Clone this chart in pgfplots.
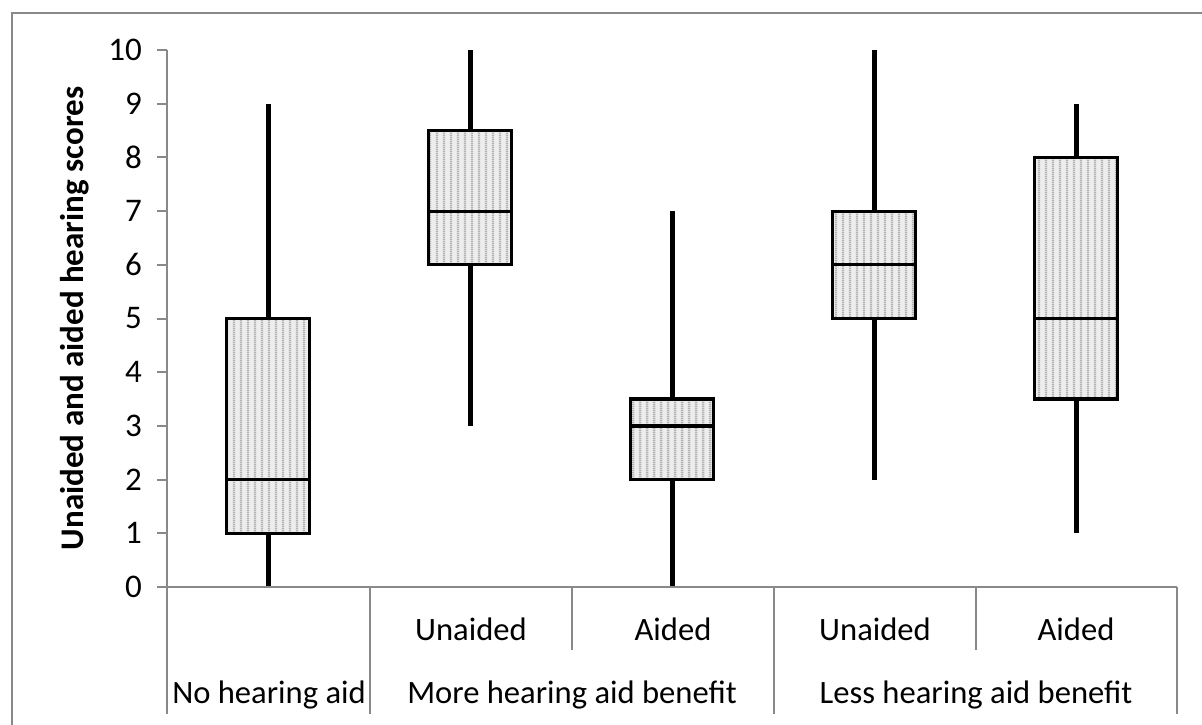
\documentclass[border=0pt]{standalone}
\usepackage{pgfplots}
\pgfplotsset{compat=1.18}
\usepgfplotslibrary{statistics}
\usetikzlibrary{patterns.meta}
\usepackage{fontspec}
\setmainfont{Carlito}

\definecolor{axgray}{RGB}{137,137,137}

% fine vertical stripes like the original box fill
\tikzdeclarepattern{
  name=vstripe,
  type=uncolored,
  bounding box={(0,0) and (3.5pt,1pt)},
  tile size={(3.5pt,1pt)},
  code={\draw[line width=1.3pt] (1.75pt,-0.1pt) -- (1.75pt,1.1pt);}
}

\begin{document}
\begin{tikzpicture}
\begin{axis}[
    at={(83.5pt,-293.5pt)}, anchor=south west,
    scale only axis,
    width=505pt, height=268.5pt,
    xmin=-0.5, xmax=4.5,
    ymin=0, ymax=10,
    axis x line=none,
    axis y line*=left,
    y axis line style={draw=axgray, line width=1pt},
    ytick={0,1,...,10},
    ytick style={draw=axgray, line width=1pt},
    tick align=outside,
    major tick length=5pt,
    xtick=\empty,
    /pgf/number format/assume math mode=true,
    yticklabel style={font=\fontsize{16.5}{19}\selectfont, xshift=-4pt},
    ylabel={Unaided and aided hearing scores},
    ylabel style={font=\fontsize{16.5}{19}\selectfont\bfseries, yshift=3pt},
    clip=false,
    boxplot/draw direction=y,
    boxplot/whisker extend=0,
    boxplot/box extend=0.41,
    boxplot/every box/.style={line width=1.6pt, preaction={fill=gray!14}, pattern=vstripe, pattern color=gray!60},
    boxplot/every whisker/.style={line width=2.5pt},
    boxplot/every median/.style={line width=1.6pt},
]
% No hearing aid
\addplot[black, boxplot prepared={draw position=0,
    lower whisker=0, lower quartile=1, median=2, upper quartile=5, upper whisker=9}]
    coordinates {};
% More benefit, unaided
\addplot[black, boxplot prepared={draw position=1,
    lower whisker=3, lower quartile=6, median=7, upper quartile=8.5, upper whisker=10}]
    coordinates {};
% More benefit, aided
\addplot[black, boxplot prepared={draw position=2,
    lower whisker=0, lower quartile=2, median=3, upper quartile=3.5, upper whisker=7}]
    coordinates {};
% Less benefit, unaided
\addplot[black, boxplot prepared={draw position=3,
    lower whisker=2, lower quartile=5, median=6, upper quartile=7, upper whisker=10}]
    coordinates {};
% Less benefit, aided
\addplot[black, boxplot prepared={draw position=4,
    lower whisker=1, lower quartile=3.5, median=5, upper quartile=8, upper whisker=9}]
    coordinates {};
\end{axis}

% category table under the axis, in pixel units of the reference
\begin{scope}[x=0.5pt, y=-0.5pt]
  \draw[axgray, line width=1pt] (157,587) -- (1177,587);
  \draw[axgray, line width=1pt]
    (167,587) -- (167,714)
    (370,587) -- (370,714)
    (572,587) -- (572,650)
    (774,587) -- (774,714)
    (976,587) -- (976,650)
    (1177,587) -- (1177,714);
  \begin{scope}[every node/.style={anchor=base, inner sep=0pt, font=\fontsize{16.3}{19}\selectfont}]
    \node at (471,640) {Unaided};
    \node at (673,640) {Aided};
    \node at (875,640) {Unaided};
    \node at (1076,640) {Aided};
    \node at (269,703) {No hearing aid};
    \node at (572,703) {More hearing aid benefit};
    \node at (976,703) {Less hearing aid benefit};
  \end{scope}
  \draw[axgray, line width=1.2pt] (12,760) -- (12,13) -- (1240,13);
  \pgfresetboundingbox
  \path[use as bounding box] (0,0) rectangle (1202,724);
\end{scope}
\end{tikzpicture}
\end{document}
